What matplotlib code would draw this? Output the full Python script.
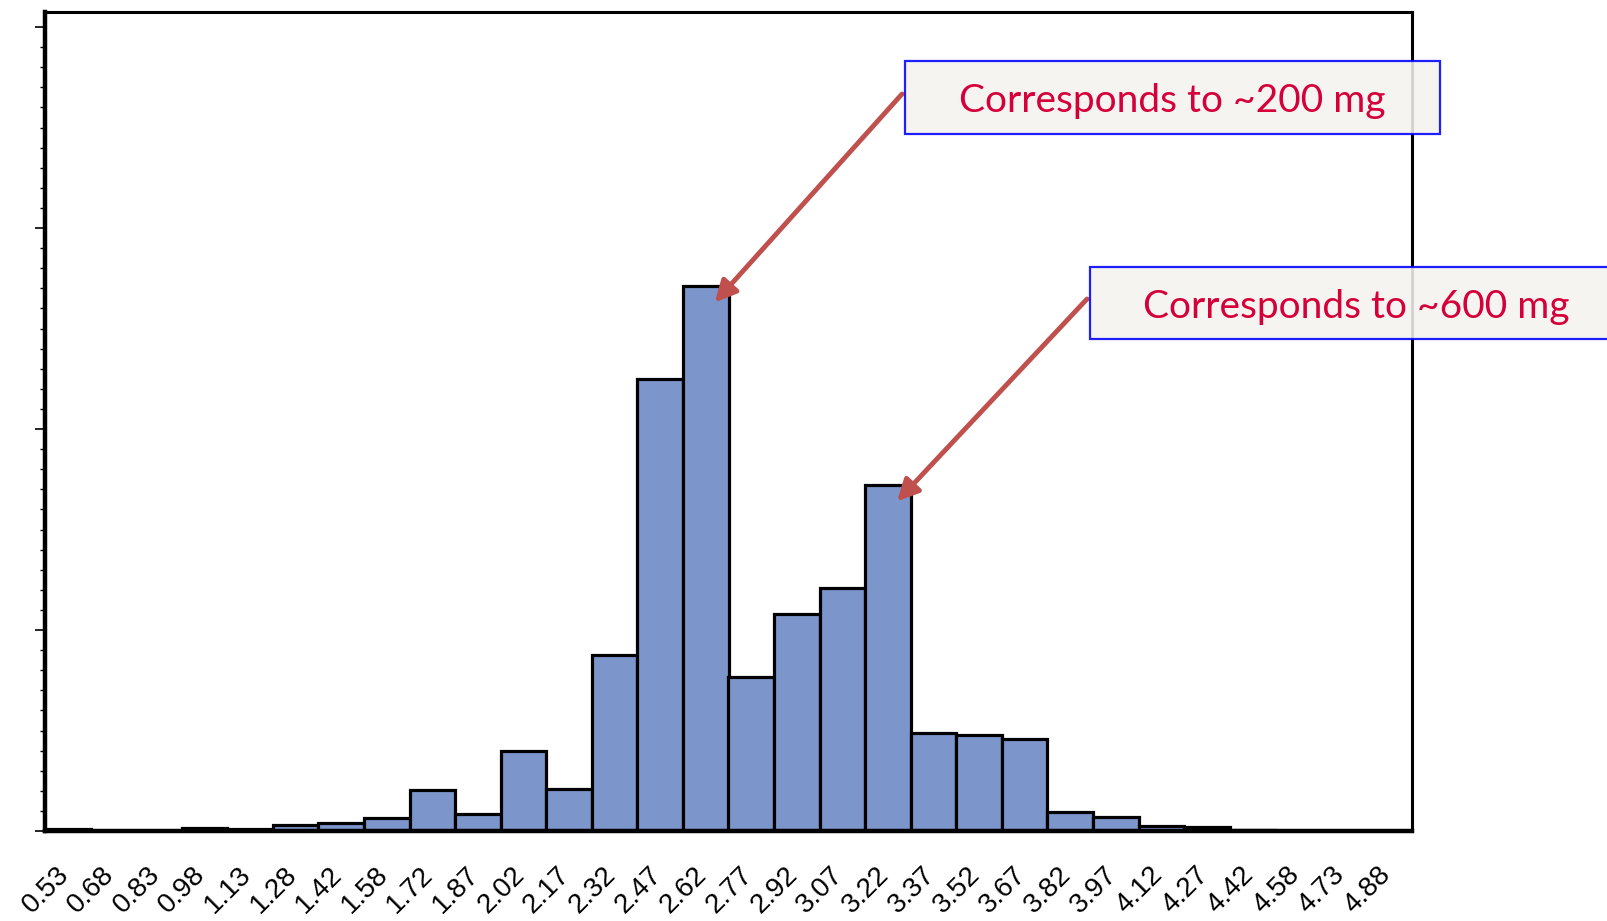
import numpy as np
import matplotlib
matplotlib.use("Agg")
import matplotlib.pyplot as plt
from matplotlib.patches import Rectangle
from matplotlib.transforms import ScaledTranslation

# ── Data: histogram bins (labels) and bar heights ───────────────────────────
bin_labels = ["0.53", "0.68", "0.83", "0.98", "1.13", "1.28", "1.42", "1.58",
              "1.72", "1.87", "2.02", "2.17", "2.32", "2.47", "2.62", "2.77",
              "2.92", "3.07", "3.22", "3.37", "3.52", "3.67", "3.82", "3.97",
              "4.12", "4.27", "4.42", "4.58", "4.73", "4.88"]
heights = [0.012, 0.0, 0.0, 0.016, 0.01, 0.03, 0.04, 0.063,
           0.204, 0.087, 0.40, 0.21, 0.878, 2.25, 2.71, 0.765,
           1.08, 1.21, 1.72, 0.49, 0.48, 0.46, 0.095, 0.07,
           0.025, 0.02, 0.004, 0.0, 0.0, 0.0]
notes = ["Corresponds to ~200 mg", "Corresponds to ~600 mg"]
note_bins = [14, 18]

W, H = 1608, 921
fig = plt.figure(figsize=(W / 100, H / 100), dpi=100)
ax = fig.add_axes([45 / W, 1 - 831 / H, (1412 - 45) / W, (831 - 12) / H])

x = np.arange(len(heights))
ax.bar(x, heights, width=1.0, color="#7c96cc", edgecolor="black", linewidth=2.3)

ax.set_xlim(-0.5, len(heights) - 0.5)
ax.set_ylim(0, 4.075)

# x axis: rotated labels, no tick marks
ax.set_xticks(x)
ax.set_xticklabels(bin_labels, rotation=45, ha="right", rotation_mode="anchor",
                   family="Liberation Sans", fontsize=20)
ax.tick_params(axis="x", length=0, pad=22)
shift = ScaledTranslation(-12 / 100, 0, fig.dpi_scale_trans)
for lbl in ax.get_xticklabels():
    lbl.set_transform(lbl.get_transform() + shift)

# y axis: ticks only, no labels
ax.set_yticks(np.arange(0, 5))
ax.set_yticks(np.arange(0, 4.05, 0.1), minor=True)
ax.set_yticklabels([])
ax.tick_params(axis="y", which="major", length=7, width=1.2, direction="out")
ax.tick_params(axis="y", which="minor", length=3.5, width=1.0, direction="out")

for side in ["left", "bottom"]:
    ax.spines[side].set_linewidth(3.2)
for side in ["top", "right"]:
    ax.spines[side].set_linewidth(2.2)

# ── annotation boxes + arrows (figure pixels, y from top) ──────────────────
boxes = [(905, 61, 1440, 134), (1090, 267, 1622, 339)]
starts = [(902, 94), (1087, 299)]
for note, b, box, st in zip(notes, note_bins, boxes, starts):
    x0, y0, x1, y1 = box
    rect = Rectangle((x0 / W, 1 - y1 / H), (x1 - x0) / W, (y1 - y0) / H,
                     transform=fig.transFigure, facecolor="#f4f3ee",
                     edgecolor="#0000ff", linewidth=1.6, alpha=0.88, zorder=5)
    fig.add_artist(rect)
    fig.text((x0 + x1) / 2 / W, 1 - (y0 + y1) / 2 / H - 0.004, note,
             family="Lato", fontsize=28, color="#d5003a",
             ha="center", va="center", zorder=6)
    ax.annotate("", xy=(b + 0.2, heights[b] - 0.08),
                xytext=(st[0], H - st[1]), textcoords="figure pixels",
                arrowprops=dict(arrowstyle="-|>", color="#c0504d", lw=3.5,
                                mutation_scale=32, shrinkA=0, shrinkB=0),
                zorder=7)

fig.savefig("out.png", dpi=100)
